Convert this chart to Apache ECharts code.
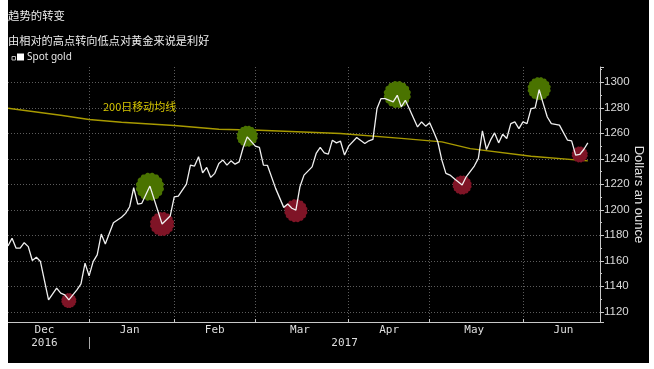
<!DOCTYPE html>
<html><head><meta charset="utf-8">
<script src="https://cdn.jsdelivr.net/npm/echarts@6/dist/echarts.min.js"></script>
<style>
html,body{margin:0;padding:0;background:#fff;width:654px;height:369px;overflow:hidden}
#c{position:absolute;left:8px;top:0;width:641px;height:363px;background:#000}
</style></head><body><div id="c"></div>
<script>
// ---- texts ----
const titleText = '趋势的转变';
const subtitleText = '由相对的高点转向低点对黄金来说是利好';
const seriesName = 'Spot gold';
const maLabel = '200日移动均线';
const axisName = 'Dollars an ounce';

// ---- trading-day calendar (categories) ----
const startDate = '2016-12-02';
const endDate = '2017-06-28';
const holidays = ['2016-12-26', '2017-01-02'];
const monthStarts = ['2017-01-03', '2017-02-01', '2017-03-01', '2017-04-03', '2017-05-01', '2017-06-01'];
const monthLabels = [['2016-12-15', 'Dec'], ['2017-01-17', 'Jan'], ['2017-02-15', 'Feb'], ['2017-03-16', 'Mar'], ['2017-04-17', 'Apr'], ['2017-05-16', 'May'], ['2017-06-15', 'Jun']];
const yearLabels = [['2016-12-15', '2016'], ['2017-03-31', '2017']];
const yearSeparator = '2017-01-03';

// ---- spot gold (USD/oz) ----
const goldPrice = [
 ['2016-12-02',1171.7],['2016-12-05',1177.7],['2016-12-06',1169.9],['2016-12-07',1169.9],['2016-12-08',1174.2],
 ['2016-12-09',1171.1],['2016-12-12',1160.2],['2016-12-13',1162.8],['2016-12-14',1159.4],['2016-12-16',1129.4],
 ['2016-12-20',1138.5],['2016-12-21',1134.6],['2016-12-22',1133.3],['2016-12-23',1129.4],['2016-12-28',1137.2],
 ['2016-12-29',1141.9],['2016-12-30',1158.1],['2017-01-03',1148.2],['2017-01-04',1159.4],['2017-01-05',1164.6],
 ['2017-01-06',1181.0],['2017-01-09',1173.2],['2017-01-10',1181.6],['2017-01-11',1189.9],['2017-01-13',1194.1],
 ['2017-01-16',1197.2],['2017-01-17',1202.4],['2017-01-18',1217.3],['2017-01-19',1204.5],['2017-01-20',1205.1],
 ['2017-01-24',1218.6],['2017-01-27',1188.9],['2017-01-31',1195.1],['2017-02-01',1210.2],['2017-02-02',1210.8],
 ['2017-02-06',1220.2],['2017-02-07',1235.0],['2017-02-08',1234.3],['2017-02-09',1241.6],['2017-02-10',1229.0],
 ['2017-02-13',1233.2],['2017-02-14',1225.4],['2017-02-15',1228.6],['2017-02-16',1236.4],['2017-02-17',1239.0],
 ['2017-02-20',1235.0],['2017-02-21',1238.4],['2017-02-22',1235.8],['2017-02-23',1237.6],['2017-02-24',1248.9],
 ['2017-02-27',1257.2],['2017-03-01',1249.9],['2017-03-02',1248.9],['2017-03-03',1235.0],['2017-03-06',1234.8],
 ['2017-03-08',1216.8],['2017-03-10',1201.9],['2017-03-13',1204.5],['2017-03-14',1201.2],['2017-03-15',1199.8],
 ['2017-03-16',1218.1],['2017-03-17',1227.2],['2017-03-21',1233.7],['2017-03-22',1244.2],['2017-03-23',1248.9],
 ['2017-03-24',1244.7],['2017-03-27',1243.7],['2017-03-28',1254.6],['2017-03-29',1252.5],['2017-03-30',1253.8],
 ['2017-03-31',1242.9],['2017-04-03',1249.9],['2017-04-05',1256.7],['2017-04-07',1252.0],['2017-04-10',1254.1],
 ['2017-04-11',1255.2],['2017-04-12',1279.4],['2017-04-13',1287.2],['2017-04-14',1287.2],['2017-04-18',1284.6],
 ['2017-04-19',1289.8],['2017-04-20',1280.7],['2017-04-21',1285.9],['2017-04-24',1279.0],['2017-04-26',1265.0],
 ['2017-04-27',1268.9],['2017-04-28',1265.6],['2017-05-01',1268.2],['2017-05-02',1261.1],['2017-05-03',1253.3],
 ['2017-05-04',1239.0],['2017-05-05',1228.6],['2017-05-08',1227.2],['2017-05-09',1224.6],['2017-05-11',1219.4],
 ['2017-05-12',1225.9],['2017-05-16',1234.3],['2017-05-17',1240.3],['2017-05-18',1261.9],['2017-05-19',1247.3],
 ['2017-05-22',1254.6],['2017-05-23',1260.3],['2017-05-24',1252.5],['2017-05-25',1259.3],['2017-05-26',1255.9],
 ['2017-05-29',1267.6],['2017-05-30',1268.9],['2017-05-31',1263.7],['2017-06-01',1268.9],['2017-06-02',1267.6],
 ['2017-06-05',1279.4],['2017-06-06',1280.0],['2017-06-07',1294.3],['2017-06-08',1283.3],['2017-06-09',1272.8],
 ['2017-06-12',1267.6],['2017-06-13',1267.0],['2017-06-14',1266.4],['2017-06-16',1254.6],['2017-06-19',1254.1],
 ['2017-06-20',1242.9],['2017-06-21',1243.4],['2017-06-22',1247.3],['2017-06-23',1252.5]
];

// ---- 200-day moving average ----
const ma200 = [
 ['2016-12-02',1279.6],['2016-12-21',1274.2],['2017-01-03',1270.8],['2017-01-13',1268.7],['2017-02-01',1266.1],
 ['2017-02-16',1263.2],['2017-03-02',1262.4],['2017-03-30',1259.8],['2017-04-20',1256.0],['2017-05-04',1253.3],
 ['2017-05-15',1248.0],['2017-06-05',1242.0],['2017-06-23',1238.4]
];

// ---- turning points ----
const turnHighs = [['2017-01-24',1218.1],['2017-02-27',1257.7],['2017-04-19',1290.4],['2017-06-07',1295.0]];
const turnLows = [['2016-12-23',1128.8],['2017-01-27',1188.9],['2017-03-15',1199.3],['2017-05-11',1219.4],['2017-06-21',1243.4]];

// ---- styles ----
const highSizes = [28, 21, 27, 23];
const lowSizes = [15, 24, 23, 19, 16];

// build category list
function ymd(d){return d.toISOString().slice(0,10);}
const dates = [];
for (let d = new Date(startDate + 'T00:00:00Z'); ymd(d) <= endDate; d.setUTCDate(d.getUTCDate() + 1)) {
  const wd = d.getUTCDay();
  const s = ymd(d);
  if (wd !== 0 && wd !== 6 && holidays.indexOf(s) < 0) dates.push(s);
}
const monthStartIdx = new Set(monthStarts.map(s => dates.indexOf(s)));
const monthLabelMap = Object.fromEntries(monthLabels);
const yearLabelMap = Object.fromEntries(yearLabels);
const sepIdx = dates.indexOf(yearSeparator);

function scallop(n){
  const pts = [];
  const N = 280;
  for (let k = 0; k < N; k++) {
    const t = k / N * Math.PI * 2;
    const r = 46 + 4 * Math.abs(Math.sin(t * n / 2));
    pts.push((50 + r * Math.cos(t)).toFixed(2) + ' ' + (50 + r * Math.sin(t)).toFixed(2));
  }
  return 'path://M' + pts.join(' L') + ' Z';
}
const badge = scallop(16);

const gridC = '#5c5c5c';
const axisC = '#c8c8c8';
const chart = echarts.init(document.getElementById('c'), null, {renderer: 'canvas'});
chart.setOption({
  backgroundColor: '#000',
  animation: false,
  grid: {left: 0, right: 49, top: 67, bottom: 41, containLabel: false, outerBoundsMode: 'none'},
  graphic: [
    {type: 'text', x: 0, y: 16, style: {text: titleText, fill: '#ececec', fontSize: 11.4, fontFamily: 'Noto Sans CJK SC', verticalAlign: 'middle'}},
    {type: 'text', x: 0, y: 41, style: {text: subtitleText, fill: '#ececec', fontSize: 11.2, fontFamily: 'Noto Sans CJK SC', verticalAlign: 'middle'}},
    {type: 'rect', shape: {x: 4, y: 56.5, width: 3.5, height: 3.5}, style: {fill: 'none', stroke: '#bbb', lineWidth: 1}},
    {type: 'text', x: 95, y: 107, z: 10, style: {text: maLabel, fill: '#d6c600', fontSize: 11, fontFamily: 'Noto Sans CJK SC', verticalAlign: 'middle'}}
  ],
  legend: {
    data: [seriesName], left: 9, top: 52, icon: 'rect', itemWidth: 7, itemHeight: 7, itemGap: 0, padding: 0,
    textStyle: {color: '#e6e6e6', fontSize: 10, fontFamily: 'Noto Sans', padding: [0, 0, 0, -2]}
  },
  xAxis: [{
    type: 'category', data: dates, boundaryGap: false,
    axisLine: {lineStyle: {color: axisC, width: 1}},
    axisTick: {show: true, inside: true, length: 3, interval: (i) => monthStartIdx.has(i), lineStyle: {color: axisC}},
    axisLabel: {interval: (i, v) => v in monthLabelMap, formatter: (v) => monthLabelMap[v] || '', color: '#dedede', fontSize: 11, fontFamily: 'DejaVu Sans Mono', margin: 3},
    splitLine: {show: true, interval: (i) => monthStartIdx.has(i), lineStyle: {color: gridC, type: [1, 2]}}
  }, {
    type: 'category', data: dates, boundaryGap: false, position: 'bottom', offset: 15,
    axisLine: {show: false},
    axisTick: {show: true, length: 12, interval: (i) => i === sepIdx, lineStyle: {color: '#aaa'}},
    axisLabel: {interval: (i, v) => v in yearLabelMap, formatter: (v) => yearLabelMap[v] || '', color: '#dedede', fontSize: 11, fontFamily: 'DejaVu Sans Mono', margin: 1},
    splitLine: {show: false}
  }],
  yAxis: {
    type: 'value', position: 'right', min: 1112, max: 1312, minInterval: 20, maxInterval: 20, splitNumber: 10,
    axisLine: {show: true, lineStyle: {color: axisC}},
    axisTick: {show: true, length: 4, lineStyle: {color: axisC}},
    minorTick: {show: true, splitNumber: 2, length: 2, lineStyle: {color: axisC}},
    axisLabel: {color: '#dadada', fontSize: 11.5, fontFamily: 'Liberation Sans', margin: 4, showMinLabel: false, showMaxLabel: false, formatter: (v) => String(v)},
    splitLine: {show: true, showMinLine: false, showMaxLine: false, lineStyle: {color: gridC, type: [1, 2]}},
    name: axisName, nameLocation: 'middle', nameRotate: -90, nameGap: 32, nameMoveOverlap: false,
    nameTextStyle: {color: '#e2e2e2', fontSize: 13, fontFamily: 'Liberation Sans'}
  },
  series: [
    {type: 'line', name: 'MA200', data: ma200, showSymbol: false, connectNulls: true, z: 2,
     lineStyle: {color: '#a89a00', width: 1.4}, itemStyle: {color: '#a89a00'}, silent: true},
    {type: 'scatter', name: 'highs', data: turnHighs, symbol: badge, z: 3, silent: true,
     symbolSize: (v, p) => highSizes[p.dataIndex], itemStyle: {color: '#4a7300', opacity: 1}},
    {type: 'scatter', name: 'lows', data: turnLows, symbol: badge, z: 3, silent: true,
     symbolSize: (v, p) => lowSizes[p.dataIndex], itemStyle: {color: '#7f1426', opacity: 1}},
    {type: 'line', name: seriesName, data: goldPrice, showSymbol: false, z: 5,
     lineStyle: {color: '#f0f0f0', width: 1.3}, itemStyle: {color: '#ffffff'}}
  ]
});
</script></body></html>
